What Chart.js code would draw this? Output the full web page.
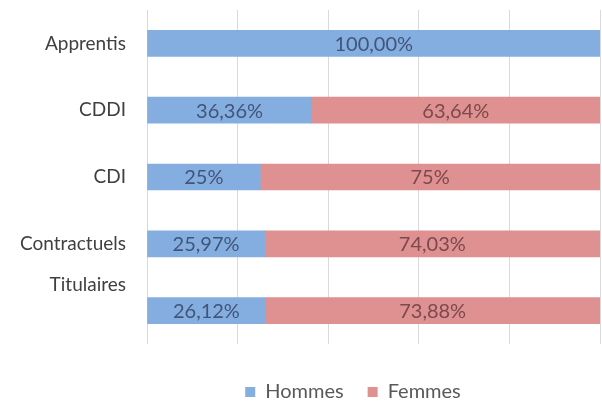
<!DOCTYPE html>
<html>
<head>
<meta charset="utf-8">
<style>
  html, body { margin: 0; padding: 0; background: #ffffff; }
  #wrap { width: 602px; height: 403px; }
</style>
<script src="https://cdn.jsdelivr.net/npm/chart.js@4/dist/chart.umd.min.js"></script>
</head>
<body>
<div id="wrap"><canvas id="chart"></canvas></div>
<script>
// categories (the blank lines push "Titulaires" up, as in the original)
const categories = ['Apprentis', 'CDDI', 'CDI', 'Contractuels', ['Titulaires', '', '']];

// shares in percent
const hommes = [100, 36.36, 25, 25.97, 26.12];
const femmes = [0, 63.64, 75, 74.03, 73.88];

// value labels as printed on the bars
const hommesLabels = ['100,00%', '36,36%', '25%', '25,97%', '26,12%'];
const femmesLabels = ['', '63,64%', '75%', '74,03%', '73,88%'];

const xTicks = [0, 20, 40, 60, 80, 100];

// draws the text in the middle of each bar segment
const barLabels = {
    id: 'barLabels',
    afterDatasetsDraw(chart) {
        const ctx = chart.ctx;
        ctx.save();
        ctx.font = '20px Lato';
        ctx.textAlign = 'center';
        ctx.textBaseline = 'middle';
        chart.data.datasets.forEach((ds, i) => {
            const meta = chart.getDatasetMeta(i);
            meta.data.forEach((bar, j) => {
                const text = ds.valueLabels[j];
                if (!text) return;
                const props = bar.getProps(['x', 'y', 'base'], true);
                ctx.fillStyle = ds.labelColor;
                ctx.fillText(text, (props.x + props.base) / 2, props.y + 1);
            });
        });
        ctx.restore();
    }
};

// the legend sits under the plot area rather than the whole canvas
const legendShift = {
    id: 'legendShift',
    afterLayout(chart) {
        chart.legend.left += 53;
        chart.legend.right += 53;
    }
};

new Chart(document.getElementById('chart'), {
    type: 'bar',
    data: {
        labels: categories,
        datasets: [{
            label: 'Hommes',
            data: hommes,
            valueLabels: hommesLabels,
            labelColor: '#41557a',
            backgroundColor: '#85aee0',
            borderWidth: 0,
            barThickness: 26
        }, {
            label: 'Femmes',
            data: femmes,
            valueLabels: femmesLabels,
            labelColor: '#7a4a4c',
            backgroundColor: '#de9190',
            borderWidth: 0,
            barThickness: 26
        }]
    },
    options: {
        indexAxis: 'y',
        responsive: true,
        maintainAspectRatio: false,
        animation: false,
        layout: {
            padding: { top: 10, right: 2, bottom: 0, left: 0 }
        },
        scales: {
            x: {
                stacked: true,
                min: 0,
                max: 100,
                afterBuildTicks: (scale) => {
                    scale.ticks = xTicks.map(v => ({ value: v }));
                },
                afterFit: (scale) => { scale.height = 14; },
                ticks: { display: false },
                border: { display: false },
                grid: { color: '#d9d9d9', drawTicks: false }
            },
            y: {
                stacked: true,
                afterFit: (scale) => {
                    scale.width = 147;
                    scale.paddingTop = 0;
                    scale.paddingBottom = 0;
                },
                border: { display: false },
                grid: { display: false, drawTicks: false },
                ticks: {
                    autoSkip: false,
                    padding: 21,
                    color: '#404040',
                    font: { family: 'Lato', size: 19, lineHeight: 1.37 }
                }
            }
        },
        plugins: {
            legend: {
                position: 'bottom',
                maxHeight: 45,
                labels: {
                    boxWidth: 10,
                    boxHeight: 10,
                    padding: 24,
                    color: '#595959',
                    font: { family: 'Lato', size: 20 }
                }
            },
            tooltip: { enabled: false }
        }
    },
    plugins: [barLabels, legendShift]
});
</script>
</body>
</html>
